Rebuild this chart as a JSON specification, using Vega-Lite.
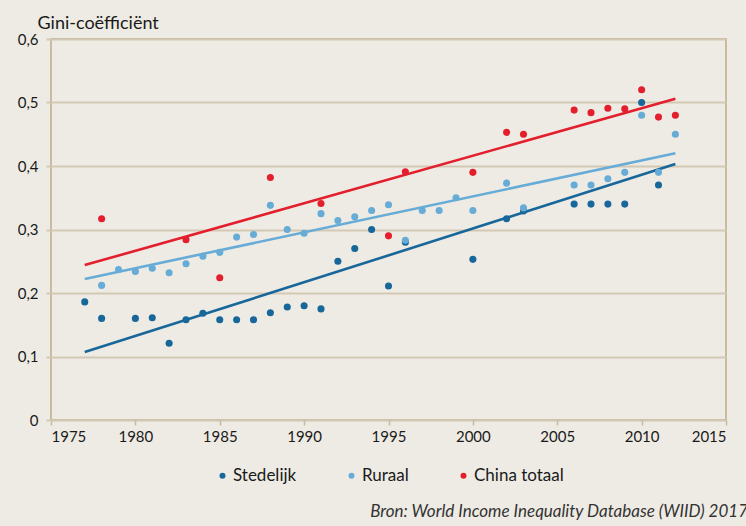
{
  "$schema": "https://vega.github.io/schema/vega-lite/v6.json",
  "width": 675,
  "height": 381,
  "autosize": {"type": "none"},
  "padding": {"left": 51, "top": 39, "right": 20, "bottom": 106},
  "background": "#eeebe4",
  "config": {
    "font": "Lato",
    "view": {"stroke": "#c9bb9f", "strokeWidth": 2, "fill": "#eeebe4"},
    "axis": {"labelFont": "Lato", "titleFont": "Lato", "labelColor": "#1a1a1a", "titleColor": "#1a1a1a"}
  },
  "title": {
    "text": "Bron: World Income Inequality Database (WIID) 2017",
    "orient": "bottom",
    "anchor": "end",
    "frame": "group",
    "offset": 20,
    "dx": 22,
    "fontSize": 17,
    "fontStyle": "italic",
    "fontWeight": "normal",
    "color": "#333333",
    "font": "Lato"
  },
  "datasets": {
    "points": [
      {"year": 1977, "value": 0.186, "series": "Stedelijk"},
      {"year": 1978, "value": 0.160, "series": "Stedelijk"},
      {"year": 1980, "value": 0.160, "series": "Stedelijk"},
      {"year": 1981, "value": 0.161, "series": "Stedelijk"},
      {"year": 1982, "value": 0.121, "series": "Stedelijk"},
      {"year": 1983, "value": 0.158, "series": "Stedelijk"},
      {"year": 1984, "value": 0.168, "series": "Stedelijk"},
      {"year": 1985, "value": 0.158, "series": "Stedelijk"},
      {"year": 1986, "value": 0.158, "series": "Stedelijk"},
      {"year": 1987, "value": 0.158, "series": "Stedelijk"},
      {"year": 1988, "value": 0.169, "series": "Stedelijk"},
      {"year": 1989, "value": 0.178, "series": "Stedelijk"},
      {"year": 1990, "value": 0.180, "series": "Stedelijk"},
      {"year": 1991, "value": 0.175, "series": "Stedelijk"},
      {"year": 1992, "value": 0.250, "series": "Stedelijk"},
      {"year": 1993, "value": 0.270, "series": "Stedelijk"},
      {"year": 1994, "value": 0.300, "series": "Stedelijk"},
      {"year": 1995, "value": 0.211, "series": "Stedelijk"},
      {"year": 1996, "value": 0.280, "series": "Stedelijk"},
      {"year": 2000, "value": 0.253, "series": "Stedelijk"},
      {"year": 2002, "value": 0.317, "series": "Stedelijk"},
      {"year": 2003, "value": 0.329, "series": "Stedelijk"},
      {"year": 2006, "value": 0.340, "series": "Stedelijk"},
      {"year": 2007, "value": 0.340, "series": "Stedelijk"},
      {"year": 2008, "value": 0.340, "series": "Stedelijk"},
      {"year": 2009, "value": 0.340, "series": "Stedelijk"},
      {"year": 2010, "value": 0.500, "series": "Stedelijk"},
      {"year": 2011, "value": 0.370, "series": "Stedelijk"},
      {"year": 1978, "value": 0.212, "series": "Ruraal"},
      {"year": 1979, "value": 0.237, "series": "Ruraal"},
      {"year": 1980, "value": 0.234, "series": "Ruraal"},
      {"year": 1981, "value": 0.239, "series": "Ruraal"},
      {"year": 1982, "value": 0.232, "series": "Ruraal"},
      {"year": 1983, "value": 0.246, "series": "Ruraal"},
      {"year": 1984, "value": 0.258, "series": "Ruraal"},
      {"year": 1985, "value": 0.264, "series": "Ruraal"},
      {"year": 1986, "value": 0.288, "series": "Ruraal"},
      {"year": 1987, "value": 0.292, "series": "Ruraal"},
      {"year": 1988, "value": 0.338, "series": "Ruraal"},
      {"year": 1989, "value": 0.300, "series": "Ruraal"},
      {"year": 1990, "value": 0.294, "series": "Ruraal"},
      {"year": 1991, "value": 0.325, "series": "Ruraal"},
      {"year": 1992, "value": 0.314, "series": "Ruraal"},
      {"year": 1993, "value": 0.320, "series": "Ruraal"},
      {"year": 1994, "value": 0.330, "series": "Ruraal"},
      {"year": 1995, "value": 0.339, "series": "Ruraal"},
      {"year": 1996, "value": 0.283, "series": "Ruraal"},
      {"year": 1997, "value": 0.330, "series": "Ruraal"},
      {"year": 1998, "value": 0.330, "series": "Ruraal"},
      {"year": 1999, "value": 0.350, "series": "Ruraal"},
      {"year": 2000, "value": 0.330, "series": "Ruraal"},
      {"year": 2002, "value": 0.373, "series": "Ruraal"},
      {"year": 2003, "value": 0.334, "series": "Ruraal"},
      {"year": 2006, "value": 0.370, "series": "Ruraal"},
      {"year": 2007, "value": 0.370, "series": "Ruraal"},
      {"year": 2008, "value": 0.380, "series": "Ruraal"},
      {"year": 2009, "value": 0.390, "series": "Ruraal"},
      {"year": 2010, "value": 0.480, "series": "Ruraal"},
      {"year": 2011, "value": 0.390, "series": "Ruraal"},
      {"year": 2012, "value": 0.450, "series": "Ruraal"},
      {"year": 1978, "value": 0.317, "series": "China totaal"},
      {"year": 1983, "value": 0.284, "series": "China totaal"},
      {"year": 1985, "value": 0.224, "series": "China totaal"},
      {"year": 1988, "value": 0.382, "series": "China totaal"},
      {"year": 1991, "value": 0.341, "series": "China totaal"},
      {"year": 1995, "value": 0.290, "series": "China totaal"},
      {"year": 1996, "value": 0.391, "series": "China totaal"},
      {"year": 2000, "value": 0.390, "series": "China totaal"},
      {"year": 2002, "value": 0.453, "series": "China totaal"},
      {"year": 2003, "value": 0.450, "series": "China totaal"},
      {"year": 2006, "value": 0.488, "series": "China totaal"},
      {"year": 2007, "value": 0.484, "series": "China totaal"},
      {"year": 2008, "value": 0.491, "series": "China totaal"},
      {"year": 2009, "value": 0.490, "series": "China totaal"},
      {"year": 2010, "value": 0.520, "series": "China totaal"},
      {"year": 2011, "value": 0.477, "series": "China totaal"},
      {"year": 2012, "value": 0.480, "series": "China totaal"}
    ],
    "trend": [
      {"year": 1977, "value": 0.107, "series": "Stedelijk"},
      {"year": 2012, "value": 0.403, "series": "Stedelijk"},
      {"year": 1977, "value": 0.222, "series": "Ruraal"},
      {"year": 2012, "value": 0.420, "series": "Ruraal"},
      {"year": 1977, "value": 0.244, "series": "China totaal"},
      {"year": 2012, "value": 0.506, "series": "China totaal"}
    ]
  },
  "encoding": {
    "x": {
      "field": "year",
      "type": "quantitative",
      "scale": {"domain": [1975, 2015], "nice": false, "zero": false},
      "axis": {
        "values": [1975, 1980, 1985, 1990, 1995, 2000, 2005, 2010, 2015],
        "format": "d",
        "title": null,
        "grid": false,
        "domain": false,
        "tickColor": "#c9bb9f",
        "tickSize": 5,
        "tickWidth": 1.5,
        "labelFontSize": 15,
        "labelPadding": 4
      }
    },
    "y": {
      "field": "value",
      "type": "quantitative",
      "scale": {"domain": [0, 0.6], "nice": false},
      "axis": {
        "values": [0, 0.1, 0.2, 0.3, 0.4, 0.5, 0.6],
        "labelExpr": "datum.value == 0 ? '0' : replace(format(datum.value, '.1f'), '.', ',')",
        "title": "Gini-coëfficiënt",
        "titleAngle": 0,
        "titleAlign": "left",
        "titleBaseline": "alphabetic",
        "titleX": -14,
        "titleY": -11,
        "titleFontSize": 18,
        "titleFontWeight": "normal",
        "grid": true,
        "gridColor": "#d3c8b4",
        "gridWidth": 2,
        "domain": false,
        "tickColor": "#d3c8b4",
        "tickSize": 5,
        "tickWidth": 2,
        "labelFontSize": 15,
        "labelPadding": 8
      }
    },
    "color": {
      "field": "series",
      "type": "nominal",
      "scale": {
        "domain": ["Stedelijk", "Ruraal", "China totaal"],
        "range": ["#17679a", "#67acd6", "#e31f2e"]
      },
      "legend": {
        "title": null,
        "orient": "none",
        "direction": "horizontal",
        "legendX": 163,
        "legendY": 428,
        "symbolType": "circle",
        "symbolSize": 36,
        "symbolOpacity": 1,
        "labelFontSize": 17,
        "labelFont": "Lato",
        "labelColor": "#1a1a1a",
        "labelOffset": 2,
        "columnPadding": 46,
        "symbolStrokeWidth": 0
      }
    }
  },
  "layer": [
    {
      "data": {"name": "trend"},
      "mark": {"type": "line", "strokeWidth": 2.6},
      "encoding": {"detail": {"field": "series"}}
    },
    {
      "data": {"name": "points"},
      "mark": {"type": "circle", "size": 50, "opacity": 1}
    }
  ]
}
